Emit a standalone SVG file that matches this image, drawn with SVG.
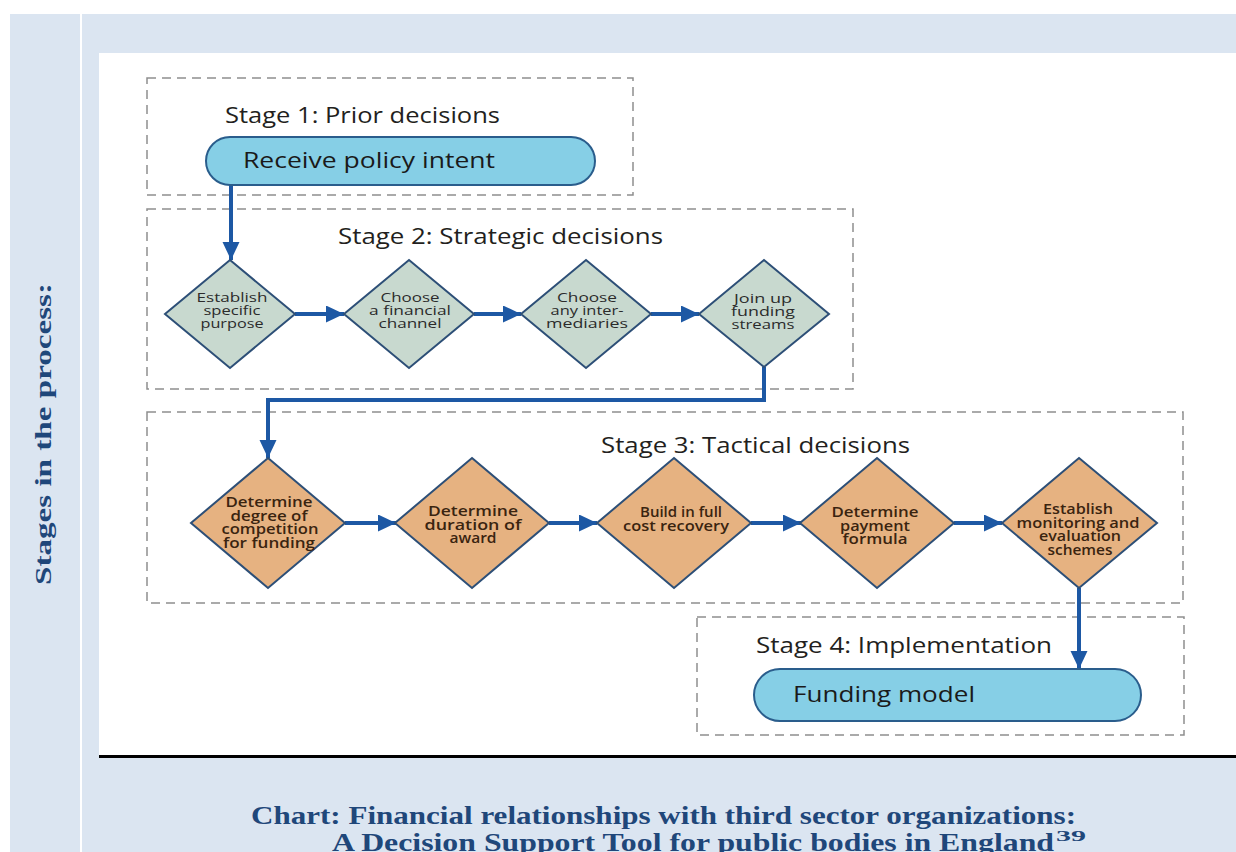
<svg xmlns="http://www.w3.org/2000/svg" width="1236" height="852" viewBox="0 0 1236 852">
  <defs>
    <marker id="arrow" markerUnits="userSpaceOnUse" markerWidth="20" markerHeight="18" refX="18" refY="8.5" orient="auto">
      <path d="M0,0 L18,8.5 L0,17 Z" fill="#1d58a4"/>
    </marker>
    <style>
      .stage { fill: none; stroke: #8e8e8e; stroke-width: 1.5; stroke-dasharray: 9 6; }
      .stage-label { font-family: "Open Sans", "Liberation Sans", sans-serif; font-size: 21px; fill: #231f20; }
      .pill { fill: #86cfe6; stroke: #2a5d8c; stroke-width: 2; }
      .pill-text { font-family: "Open Sans", "Liberation Sans", sans-serif; font-size: 22px; fill: #1a1a1a; }
      .strategic { fill: #c8d9cf; stroke: #2d4f77; stroke-width: 2; }
      .tactical { fill: #e6b281; stroke: #2d4f77; stroke-width: 2; }
      .d-text { font-family: "Open Sans", "Liberation Sans", sans-serif; font-size: 13.5px; text-anchor: middle; }
      .d-strat { fill: #2b2b2b; }
      .d-tact { fill: #3a2410; font-weight: 600; }
      .flow { fill: none; stroke: #1d58a4; stroke-width: 4; }
      .caption { font-family: "Liberation Serif", "DejaVu Serif", serif; font-weight: bold; fill: #1f477a; }
    </style>
  </defs>

  <!-- page background and frame -->
  <rect x="0" y="0" width="1236" height="852" fill="#ffffff"/>
  <rect x="10" y="14" width="70" height="838" fill="#dbe5f1"/>
  <rect x="82" y="14" width="1154" height="838" fill="#dbe5f1"/>
  <rect x="99" y="53" width="1137" height="703" fill="#ffffff"/>
  <rect x="99" y="755" width="1137" height="3" fill="#000000"/>

  <!-- side heading -->
  <text class="caption" font-size="24" transform="translate(51,434) rotate(-90)" text-anchor="middle" textLength="302" lengthAdjust="spacingAndGlyphs">Stages in the process:</text>

  <!-- stage frames -->
  <g id="stage1">
    <rect class="stage" x="147" y="78" width="486" height="117"/>
    <text class="stage-label" x="225" y="123" textLength="275" lengthAdjust="spacingAndGlyphs">Stage 1: Prior decisions</text>
  </g>
  <g id="stage2">
    <rect class="stage" x="147" y="209" width="706" height="180"/>
    <text class="stage-label" x="338" y="244" textLength="325" lengthAdjust="spacingAndGlyphs">Stage 2: Strategic decisions</text>
  </g>
  <g id="stage3">
    <rect class="stage" x="147" y="412" width="1036" height="191"/>
    <text class="stage-label" x="601" y="453" textLength="309" lengthAdjust="spacingAndGlyphs">Stage 3: Tactical decisions</text>
  </g>
  <g id="stage4">
    <rect class="stage" x="697" y="617" width="487" height="118"/>
    <text class="stage-label" x="756" y="653" textLength="296" lengthAdjust="spacingAndGlyphs">Stage 4: Implementation</text>
  </g>

  <!-- connectors -->
  <g id="connectors">
    <path class="flow" d="M231,185 V260" marker-end="url(#arrow)"/>
    <path class="flow" d="M295,314 H344" marker-end="url(#arrow)"/>
    <path class="flow" d="M474,314 H521" marker-end="url(#arrow)"/>
    <path class="flow" d="M651,314 H699" marker-end="url(#arrow)"/>
    <path class="flow" d="M764,367 V400 H268 V458" marker-end="url(#arrow)"/>
    <path class="flow" d="M345,523 H396" marker-end="url(#arrow)"/>
    <path class="flow" d="M549,523 H597" marker-end="url(#arrow)"/>
    <path class="flow" d="M751,523 H801" marker-end="url(#arrow)"/>
    <path class="flow" d="M954,523 H1002" marker-end="url(#arrow)"/>
    <path class="flow" d="M1079,588 V669" marker-end="url(#arrow)"/>
  </g>

  <!-- stage 1 terminal -->
  <g id="receive-policy-intent">
    <rect class="pill" x="206" y="137" width="389" height="48" rx="24"/>
    <text class="pill-text" x="243" y="168" textLength="252" lengthAdjust="spacingAndGlyphs">Receive policy intent</text>
  </g>

  <!-- stage 2 decisions -->
  <g id="establish-purpose">
    <polygon class="strategic" points="230,260 295,314 230,368 165,314"/>
    <text class="d-text d-strat"><tspan x="232" y="302" textLength="71" lengthAdjust="spacingAndGlyphs">Establish</tspan><tspan x="232" y="315" textLength="57" lengthAdjust="spacingAndGlyphs">specific</tspan><tspan x="232" y="328" textLength="63" lengthAdjust="spacingAndGlyphs">purpose</tspan></text>
  </g>
  <g id="financial-channel">
    <polygon class="strategic" points="409,260 474,314 409,368 344,314"/>
    <text class="d-text d-strat"><tspan x="410" y="302" textLength="59" lengthAdjust="spacingAndGlyphs">Choose</tspan><tspan x="410" y="315" textLength="82" lengthAdjust="spacingAndGlyphs">a financial</tspan><tspan x="410" y="328" textLength="63" lengthAdjust="spacingAndGlyphs">channel</tspan></text>
  </g>
  <g id="intermediaries">
    <polygon class="strategic" points="586,260 651,314 586,368 521,314"/>
    <text class="d-text d-strat"><tspan x="587" y="302" textLength="60" lengthAdjust="spacingAndGlyphs">Choose</tspan><tspan x="587" y="315" textLength="73" lengthAdjust="spacingAndGlyphs">any inter-</tspan><tspan x="587" y="328" textLength="82" lengthAdjust="spacingAndGlyphs">mediaries</tspan></text>
  </g>
  <g id="funding-streams">
    <polygon class="strategic" points="764,260 829,314 764,367 699,314"/>
    <text class="d-text d-strat"><tspan x="763" y="303" textLength="58" lengthAdjust="spacingAndGlyphs">Join up</tspan><tspan x="763" y="316" textLength="64" lengthAdjust="spacingAndGlyphs">funding</tspan><tspan x="763" y="329" textLength="63" lengthAdjust="spacingAndGlyphs">streams</tspan></text>
  </g>

  <!-- stage 3 decisions -->
  <g id="degree-of-competition">
    <polygon class="tactical" points="268,458 345,523 268,588 191,523"/>
    <text class="d-text d-tact"><tspan x="269" y="507" textLength="87" lengthAdjust="spacingAndGlyphs">Determine</tspan><tspan x="269" y="520.5" textLength="77" lengthAdjust="spacingAndGlyphs">degree of</tspan><tspan x="270" y="534" textLength="97" lengthAdjust="spacingAndGlyphs">competition</tspan><tspan x="269" y="547.5" textLength="92" lengthAdjust="spacingAndGlyphs">for funding</tspan></text>
  </g>
  <g id="duration-of-award">
    <polygon class="tactical" points="472,458 549,523 472,588 395,523"/>
    <text class="d-text d-tact"><tspan x="473" y="516" textLength="90" lengthAdjust="spacingAndGlyphs">Determine</tspan><tspan x="473" y="529.5" textLength="97" lengthAdjust="spacingAndGlyphs">duration of</tspan><tspan x="473" y="543" textLength="47" lengthAdjust="spacingAndGlyphs">award</tspan></text>
  </g>
  <g id="full-cost-recovery">
    <polygon class="tactical" points="674,458 751,523 674,588 597,523"/>
    <text class="d-text d-tact"><tspan x="681" y="517" textLength="82" lengthAdjust="spacingAndGlyphs">Build in full</tspan><tspan x="676" y="530.5" textLength="106" lengthAdjust="spacingAndGlyphs">cost recovery</tspan></text>
  </g>
  <g id="payment-formula">
    <polygon class="tactical" points="877,458 954,523 877,588 800,523"/>
    <text class="d-text d-tact"><tspan x="875" y="517" textLength="87" lengthAdjust="spacingAndGlyphs">Determine</tspan><tspan x="875" y="530.5" textLength="70" lengthAdjust="spacingAndGlyphs">payment</tspan><tspan x="875" y="544" textLength="65" lengthAdjust="spacingAndGlyphs">formula</tspan></text>
  </g>
  <g id="monitoring-evaluation">
    <polygon class="tactical" points="1079,458 1157,523 1079,588 1002,523"/>
    <text class="d-text d-tact"><tspan x="1078" y="514" textLength="70" lengthAdjust="spacingAndGlyphs">Establish</tspan><tspan x="1078" y="527.5" textLength="123" lengthAdjust="spacingAndGlyphs">monitoring and</tspan><tspan x="1080" y="541" textLength="82" lengthAdjust="spacingAndGlyphs">evaluation</tspan><tspan x="1080" y="554.5" textLength="65" lengthAdjust="spacingAndGlyphs">schemes</tspan></text>
  </g>

  <!-- stage 4 terminal -->
  <g id="funding-model">
    <rect class="pill" x="754" y="669" width="387" height="52" rx="26"/>
    <text class="pill-text" x="793" y="702" textLength="182" lengthAdjust="spacingAndGlyphs">Funding model</text>
  </g>

  <!-- caption -->
  <text class="caption" font-size="25" x="251" y="824" textLength="825" lengthAdjust="spacingAndGlyphs">Chart: Financial relationships with third sector organizations:</text>
  <text class="caption" font-size="25" x="332" y="851" textLength="722" lengthAdjust="spacingAndGlyphs">A Decision Support Tool for public bodies in England</text>
  <text class="caption" font-size="15" x="1056" y="841" textLength="30" lengthAdjust="spacingAndGlyphs">39</text>
</svg>
